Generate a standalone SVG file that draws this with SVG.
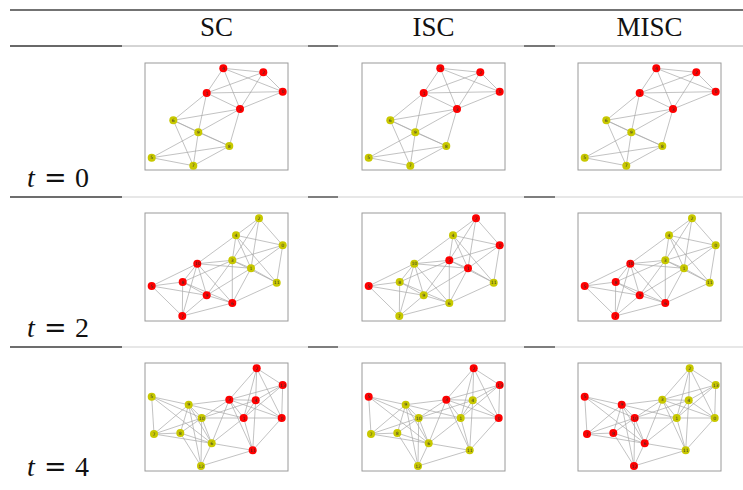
<svg xmlns="http://www.w3.org/2000/svg" xmlns:xlink="http://www.w3.org/1999/xlink" width="743" height="490" viewBox="0 0 743 490">
<style>
.rule{stroke:#444;stroke-width:1.3}
.hl{stroke:#aaa;stroke-width:1}
.hl2{stroke:#cfcfcf;stroke-width:1}
.head{font-family:"Liberation Serif",serif;font-size:27px;fill:#111;text-anchor:middle}
.tl{font-family:"Liberation Serif",serif;font-size:28px;fill:#111}
.eq{font-family:"DejaVu Serif",serif;font-size:27px}
.box{fill:#fff;stroke:#9a9a9a;stroke-width:1}
.edges,.es{stroke:#a8a8a8;stroke-width:0.7;fill:none}
.r circle{fill:#f00}
.y circle{fill:#c8c800}
.node text{font-family:"DejaVu Sans",sans-serif;font-size:4.5px;fill:#333;text-anchor:middle}
</style>
<g id="table">
<line class="rule" x1="10" y1="10" x2="743" y2="10"/>
<line class="hl" x1="10" y1="46" x2="743" y2="46"/>
<line class="rule" x1="10" y1="46" x2="122" y2="46"/>
<line class="rule" x1="308" y1="46" x2="338" y2="46"/>
<line class="rule" x1="524" y1="46" x2="555" y2="46"/>
<line class="hl2" x1="10" y1="197" x2="743" y2="197"/>
<line class="rule" x1="10" y1="197" x2="122" y2="197"/>
<line class="rule" x1="308" y1="197" x2="338" y2="197"/>
<line class="rule" x1="524" y1="197" x2="555" y2="197"/>
<line class="hl2" x1="10" y1="347" x2="743" y2="347"/>
<line class="rule" x1="10" y1="347" x2="122" y2="347"/>
<line class="rule" x1="308" y1="347" x2="338" y2="347"/>
<line class="rule" x1="524" y1="347" x2="555" y2="347"/>
<text class="head" x="216.5" y="36">SC</text>
<text class="head" x="433.5" y="36">ISC</text>
<text class="head" x="649.5" y="36">MISC</text>
<text class="tl" x="27" y="187"><tspan font-style="italic">t</tspan><tspan class="eq" x="44">=</tspan><tspan x="75">0</tspan></text>
<text class="tl" x="27" y="337"><tspan font-style="italic">t</tspan><tspan class="eq" x="44">=</tspan><tspan x="75">2</tspan></text>
<text class="tl" x="27" y="476"><tspan font-style="italic">t</tspan><tspan class="eq" x="44">=</tspan><tspan x="75">4</tspan></text>
</g>
<defs>
<g id="e0" class="es">
<line x1="78.3" y1="5.3" x2="118.3" y2="9.3"/><line x1="78.3" y1="5.3" x2="137.7" y2="28.7"/><line x1="78.3" y1="5.3" x2="61.7" y2="30"/><line x1="78.3" y1="5.3" x2="95" y2="46"/>
<line x1="118.3" y1="9.3" x2="61.7" y2="30"/><line x1="118.3" y1="9.3" x2="137.7" y2="28.7"/><line x1="118.3" y1="9.3" x2="95" y2="46"/>
<line x1="61.7" y1="30" x2="137.7" y2="28.7"/><line x1="61.7" y1="30" x2="95" y2="46"/><line x1="137.7" y1="28.7" x2="95" y2="46"/>
<line x1="61.7" y1="30" x2="28.3" y2="57.3"/><line x1="61.7" y1="30" x2="53.3" y2="69.3"/><line x1="28.3" y1="57.3" x2="95" y2="46"/>
<line x1="28.3" y1="57.3" x2="53.3" y2="69.3"/><line x1="28.3" y1="57.3" x2="84.3" y2="83"/><line x1="53.3" y1="69.3" x2="84.3" y2="83"/>
<line x1="53.3" y1="69.3" x2="95" y2="46"/><line x1="95" y1="46" x2="84.3" y2="83"/><line x1="28.3" y1="57.3" x2="48.3" y2="102.7"/>
<line x1="53.3" y1="69.3" x2="6.7" y2="94.7"/><line x1="53.3" y1="69.3" x2="48.3" y2="102.7"/><line x1="6.7" y1="94.7" x2="84.3" y2="83"/>
<line x1="6.7" y1="94.7" x2="48.3" y2="102.7"/><line x1="48.3" y1="102.7" x2="84.3" y2="83"/>
</g>
<g id="e1" class="es">
<line x1="114" y1="5.3" x2="91" y2="22.3"/><line x1="114" y1="5.3" x2="137.7" y2="32.3"/><line x1="114" y1="5.3" x2="87.3" y2="47.3"/><line x1="114" y1="5.3" x2="106" y2="55.3"/>
<line x1="91" y1="22.3" x2="137.7" y2="32.3"/><line x1="91" y1="22.3" x2="87.3" y2="47.3"/><line x1="91" y1="22.3" x2="106" y2="55.3"/><line x1="91" y1="22.3" x2="131.7" y2="69.7"/><line x1="91" y1="22.3" x2="52.3" y2="50.7"/>
<line x1="137.7" y1="32.3" x2="87.3" y2="47.3"/><line x1="137.7" y1="32.3" x2="106" y2="55.3"/><line x1="137.7" y1="32.3" x2="131.7" y2="69.7"/>
<line x1="87.3" y1="47.3" x2="106" y2="55.3"/><line x1="87.3" y1="47.3" x2="131.7" y2="69.7"/><line x1="106" y1="55.3" x2="131.7" y2="69.7"/>
<line x1="87.3" y1="47.3" x2="52.3" y2="50.7"/><line x1="106" y1="55.3" x2="52.3" y2="50.7"/><line x1="87.3" y1="47.3" x2="87.3" y2="90"/>
<line x1="87.3" y1="47.3" x2="61.7" y2="82.3"/><line x1="106" y1="55.3" x2="61.7" y2="82.3"/><line x1="106" y1="55.3" x2="87.3" y2="90"/><line x1="87.3" y1="90" x2="131.7" y2="69.7"/>
<line x1="52.3" y1="50.7" x2="37.7" y2="69"/><line x1="52.3" y1="50.7" x2="6.7" y2="73"/><line x1="52.3" y1="50.7" x2="61.7" y2="82.3"/><line x1="52.3" y1="50.7" x2="87.3" y2="90"/><line x1="52.3" y1="50.7" x2="37.3" y2="103"/>
<line x1="37.7" y1="69" x2="6.7" y2="73"/><line x1="37.7" y1="69" x2="61.7" y2="82.3"/><line x1="37.7" y1="69" x2="87.3" y2="90"/><line x1="37.7" y1="69" x2="37.3" y2="103"/><line x1="37.7" y1="69" x2="87.3" y2="47.3"/>
<line x1="6.7" y1="73" x2="61.7" y2="82.3"/><line x1="6.7" y1="73" x2="37.3" y2="103"/><line x1="61.7" y1="82.3" x2="87.3" y2="90"/><line x1="61.7" y1="82.3" x2="37.3" y2="103"/><line x1="37.3" y1="103" x2="87.3" y2="90"/>
</g>
<g id="e2" class="es">
<line x1="111.7" y1="5.3" x2="137.7" y2="22"/><line x1="111.7" y1="5.3" x2="84.3" y2="36.7"/><line x1="111.7" y1="5.3" x2="110.7" y2="37.3"/><line x1="111.7" y1="5.3" x2="98.7" y2="55"/><line x1="111.7" y1="5.3" x2="136.7" y2="55"/>
<line x1="137.7" y1="22" x2="84.3" y2="36.7"/><line x1="137.7" y1="22" x2="110.7" y2="37.3"/><line x1="137.7" y1="22" x2="136.7" y2="55"/><line x1="137.7" y1="22" x2="98.7" y2="55"/>
<line x1="84.3" y1="36.7" x2="110.7" y2="37.3"/><line x1="84.3" y1="36.7" x2="98.7" y2="55"/><line x1="84.3" y1="36.7" x2="56.7" y2="55"/><line x1="84.3" y1="36.7" x2="66.7" y2="80.3"/><line x1="84.3" y1="36.7" x2="107.7" y2="87.3"/><line x1="84.3" y1="36.7" x2="136.7" y2="55"/>
<line x1="110.7" y1="37.3" x2="98.7" y2="55"/><line x1="110.7" y1="37.3" x2="136.7" y2="55"/><line x1="110.7" y1="37.3" x2="107.7" y2="87.3"/>
<line x1="98.7" y1="55" x2="136.7" y2="55"/><line x1="98.7" y1="55" x2="56.7" y2="55"/><line x1="98.7" y1="55" x2="66.7" y2="80.3"/><line x1="98.7" y1="55" x2="107.7" y2="87.3"/><line x1="136.7" y1="55" x2="107.7" y2="87.3"/>
<line x1="6.7" y1="33.7" x2="43.7" y2="41.7"/><line x1="6.7" y1="33.7" x2="56.7" y2="55"/><line x1="6.7" y1="33.7" x2="9" y2="71"/><line x1="6.7" y1="33.7" x2="66.7" y2="80.3"/>
<line x1="43.7" y1="41.7" x2="84.3" y2="36.7"/><line x1="43.7" y1="41.7" x2="56.7" y2="55"/><line x1="43.7" y1="41.7" x2="9" y2="71"/><line x1="43.7" y1="41.7" x2="35.3" y2="70"/><line x1="43.7" y1="41.7" x2="66.7" y2="80.3"/><line x1="43.7" y1="41.7" x2="56" y2="103"/><line x1="43.7" y1="41.7" x2="98.7" y2="55"/>
<line x1="56.7" y1="55" x2="9" y2="71"/><line x1="56.7" y1="55" x2="35.3" y2="70"/><line x1="56.7" y1="55" x2="66.7" y2="80.3"/><line x1="56.7" y1="55" x2="56" y2="103"/><line x1="56.7" y1="55" x2="110.7" y2="37.3"/>
<line x1="9" y1="71" x2="35.3" y2="70"/><line x1="9" y1="71" x2="66.7" y2="80.3"/><line x1="35.3" y1="70" x2="66.7" y2="80.3"/><line x1="35.3" y1="70" x2="56" y2="103"/>
<line x1="66.7" y1="80.3" x2="56" y2="103"/><line x1="66.7" y1="80.3" x2="107.7" y2="87.3"/><line x1="56" y1="103" x2="107.7" y2="87.3"/>
</g>
</defs>

<!-- Row t=0 -->
<g id="sc-t0" transform="translate(145,63)">
<rect class="box" width="143" height="107"/>
<g class="edges"><use href="#e0"/></g>
<g id="sc-t0-n0" class="node r" transform="translate(137.7,28.7)"><circle r="4"/><text y="1.6">0</text></g>
<g id="sc-t0-n1" class="node r" transform="translate(61.7,30)"><circle r="4"/><text y="1.6">1</text></g>
<g id="sc-t0-n2" class="node r" transform="translate(118.3,9.3)"><circle r="4"/><text y="1.6">2</text></g>
<g id="sc-t0-n3" class="node r" transform="translate(95,46)"><circle r="4"/><text y="1.6">3</text></g>
<g id="sc-t0-n4" class="node r" transform="translate(78.3,5.3)"><circle r="4"/><text y="1.6">4</text></g>
<g id="sc-t0-n5" class="node y" transform="translate(6.7,94.7)"><circle r="4"/><text y="1.6">5</text></g>
<g id="sc-t0-n6" class="node y" transform="translate(28.3,57.3)"><circle r="4"/><text y="1.6">6</text></g>
<g id="sc-t0-n7" class="node y" transform="translate(48.3,102.7)"><circle r="4"/><text y="1.6">7</text></g>
<g id="sc-t0-n8" class="node y" transform="translate(84.3,83)"><circle r="4"/><text y="1.6">8</text></g>
<g id="sc-t0-n9" class="node y" transform="translate(53.3,69.3)"><circle r="4"/><text y="1.6">9</text></g>
</g>
<g id="isc-t0" transform="translate(362,63)">
<rect class="box" width="143" height="107"/>
<g class="edges"><use href="#e0"/></g>
<g id="isc-t0-n0" class="node r" transform="translate(137.7,28.7)"><circle r="4"/><text y="1.6">0</text></g>
<g id="isc-t0-n1" class="node r" transform="translate(61.7,30)"><circle r="4"/><text y="1.6">1</text></g>
<g id="isc-t0-n2" class="node r" transform="translate(118.3,9.3)"><circle r="4"/><text y="1.6">2</text></g>
<g id="isc-t0-n3" class="node r" transform="translate(95,46)"><circle r="4"/><text y="1.6">3</text></g>
<g id="isc-t0-n4" class="node r" transform="translate(78.3,5.3)"><circle r="4"/><text y="1.6">4</text></g>
<g id="isc-t0-n5" class="node y" transform="translate(6.7,94.7)"><circle r="4"/><text y="1.6">5</text></g>
<g id="isc-t0-n6" class="node y" transform="translate(28.3,57.3)"><circle r="4"/><text y="1.6">6</text></g>
<g id="isc-t0-n7" class="node y" transform="translate(48.3,102.7)"><circle r="4"/><text y="1.6">7</text></g>
<g id="isc-t0-n8" class="node y" transform="translate(84.3,83)"><circle r="4"/><text y="1.6">8</text></g>
<g id="isc-t0-n9" class="node y" transform="translate(53.3,69.3)"><circle r="4"/><text y="1.6">9</text></g>
</g>
<g id="misc-t0" transform="translate(578,63)">
<rect class="box" width="143" height="107"/>
<g class="edges"><use href="#e0"/></g>
<g id="misc-t0-n0" class="node r" transform="translate(137.7,28.7)"><circle r="4"/><text y="1.6">0</text></g>
<g id="misc-t0-n1" class="node r" transform="translate(61.7,30)"><circle r="4"/><text y="1.6">1</text></g>
<g id="misc-t0-n2" class="node r" transform="translate(118.3,9.3)"><circle r="4"/><text y="1.6">2</text></g>
<g id="misc-t0-n3" class="node r" transform="translate(95,46)"><circle r="4"/><text y="1.6">3</text></g>
<g id="misc-t0-n4" class="node r" transform="translate(78.3,5.3)"><circle r="4"/><text y="1.6">4</text></g>
<g id="misc-t0-n5" class="node y" transform="translate(6.7,94.7)"><circle r="4"/><text y="1.6">5</text></g>
<g id="misc-t0-n6" class="node y" transform="translate(28.3,57.3)"><circle r="4"/><text y="1.6">6</text></g>
<g id="misc-t0-n7" class="node y" transform="translate(48.3,102.7)"><circle r="4"/><text y="1.6">7</text></g>
<g id="misc-t0-n8" class="node y" transform="translate(84.3,83)"><circle r="4"/><text y="1.6">8</text></g>
<g id="misc-t0-n9" class="node y" transform="translate(53.3,69.3)"><circle r="4"/><text y="1.6">9</text></g>
</g>

<!-- Row t=2 -->
<g id="sc-t2" transform="translate(145,213)">
<rect class="box" width="143" height="108"/>
<g class="edges"><use href="#e1"/></g>
<g id="sc-t2-n0" class="node y" transform="translate(137.7,32.3)"><circle r="4"/><text y="1.6">0</text></g>
<g id="sc-t2-n1" class="node y" transform="translate(106,55.3)"><circle r="4"/><text y="1.6">1</text></g>
<g id="sc-t2-n2" class="node y" transform="translate(114,5.3)"><circle r="4"/><text y="1.6">2</text></g>
<g id="sc-t2-n3" class="node y" transform="translate(87.3,47.3)"><circle r="4"/><text y="1.6">3</text></g>
<g id="sc-t2-n4" class="node y" transform="translate(91,22.3)"><circle r="4"/><text y="1.6">4</text></g>
<g id="sc-t2-n5" class="node r" transform="translate(6.7,73)"><circle r="4"/><text y="1.6">5</text></g>
<g id="sc-t2-n6" class="node r" transform="translate(87.3,90)"><circle r="4"/><text y="1.6">6</text></g>
<g id="sc-t2-n7" class="node r" transform="translate(37.3,103)"><circle r="4"/><text y="1.6">7</text></g>
<g id="sc-t2-n8" class="node r" transform="translate(37.7,69)"><circle r="4"/><text y="1.6">8</text></g>
<g id="sc-t2-n9" class="node r" transform="translate(61.7,82.3)"><circle r="4"/><text y="1.6">9</text></g>
<g id="sc-t2-n10" class="node r" transform="translate(52.3,50.7)"><circle r="4"/><text y="1.6">10</text></g>
<g id="sc-t2-n11" class="node y" transform="translate(131.7,69.7)"><circle r="4"/><text y="1.6">11</text></g>
</g>
<g id="isc-t2" transform="translate(362,213)">
<rect class="box" width="143" height="108"/>
<g class="edges"><use href="#e1"/></g>
<g id="isc-t2-n0" class="node r" transform="translate(137.7,32.3)"><circle r="4"/><text y="1.6">0</text></g>
<g id="isc-t2-n1" class="node r" transform="translate(106,55.3)"><circle r="4"/><text y="1.6">1</text></g>
<g id="isc-t2-n2" class="node r" transform="translate(114,5.3)"><circle r="4"/><text y="1.6">2</text></g>
<g id="isc-t2-n3" class="node r" transform="translate(87.3,47.3)"><circle r="4"/><text y="1.6">3</text></g>
<g id="isc-t2-n4" class="node y" transform="translate(91,22.3)"><circle r="4"/><text y="1.6">4</text></g>
<g id="isc-t2-n5" class="node r" transform="translate(6.7,73)"><circle r="4"/><text y="1.6">5</text></g>
<g id="isc-t2-n6" class="node y" transform="translate(87.3,90)"><circle r="4"/><text y="1.6">6</text></g>
<g id="isc-t2-n7" class="node y" transform="translate(37.3,103)"><circle r="4"/><text y="1.6">7</text></g>
<g id="isc-t2-n8" class="node y" transform="translate(37.7,69)"><circle r="4"/><text y="1.6">8</text></g>
<g id="isc-t2-n9" class="node y" transform="translate(61.7,82.3)"><circle r="4"/><text y="1.6">9</text></g>
<g id="isc-t2-n10" class="node y" transform="translate(52.3,50.7)"><circle r="4"/><text y="1.6">10</text></g>
<g id="isc-t2-n11" class="node y" transform="translate(131.7,69.7)"><circle r="4"/><text y="1.6">11</text></g>
</g>
<g id="misc-t2" transform="translate(578,213)">
<rect class="box" width="143" height="108"/>
<g class="edges"><use href="#e1"/></g>
<g id="misc-t2-n0" class="node y" transform="translate(137.7,32.3)"><circle r="4"/><text y="1.6">0</text></g>
<g id="misc-t2-n1" class="node y" transform="translate(106,55.3)"><circle r="4"/><text y="1.6">1</text></g>
<g id="misc-t2-n2" class="node y" transform="translate(114,5.3)"><circle r="4"/><text y="1.6">2</text></g>
<g id="misc-t2-n3" class="node y" transform="translate(87.3,47.3)"><circle r="4"/><text y="1.6">3</text></g>
<g id="misc-t2-n4" class="node y" transform="translate(91,22.3)"><circle r="4"/><text y="1.6">4</text></g>
<g id="misc-t2-n5" class="node r" transform="translate(6.7,73)"><circle r="4"/><text y="1.6">5</text></g>
<g id="misc-t2-n6" class="node r" transform="translate(87.3,90)"><circle r="4"/><text y="1.6">6</text></g>
<g id="misc-t2-n7" class="node r" transform="translate(37.3,103)"><circle r="4"/><text y="1.6">7</text></g>
<g id="misc-t2-n8" class="node r" transform="translate(37.7,69)"><circle r="4"/><text y="1.6">8</text></g>
<g id="misc-t2-n9" class="node r" transform="translate(61.7,82.3)"><circle r="4"/><text y="1.6">9</text></g>
<g id="misc-t2-n10" class="node r" transform="translate(52.3,50.7)"><circle r="4"/><text y="1.6">10</text></g>
<g id="misc-t2-n11" class="node y" transform="translate(131.7,69.7)"><circle r="4"/><text y="1.6">11</text></g>
</g>

<!-- Row t=4 -->
<g id="sc-t4" transform="translate(145,363)">
<rect class="box" width="143" height="108"/>
<g class="edges"><use href="#e2"/></g>
<g id="sc-t4-n0" class="node r" transform="translate(136.7,55)"><circle r="4"/><text y="1.6">0</text></g>
<g id="sc-t4-n1" class="node r" transform="translate(98.7,55)"><circle r="4"/><text y="1.6">1</text></g>
<g id="sc-t4-n2" class="node r" transform="translate(111.7,5.3)"><circle r="4"/><text y="1.6">2</text></g>
<g id="sc-t4-n3" class="node r" transform="translate(84.3,36.7)"><circle r="4"/><text y="1.6">3</text></g>
<g id="sc-t4-n4" class="node r" transform="translate(110.7,37.3)"><circle r="4"/><text y="1.6">4</text></g>
<g id="sc-t4-n5" class="node y" transform="translate(6.7,33.7)"><circle r="4"/><text y="1.6">5</text></g>
<g id="sc-t4-n6" class="node y" transform="translate(66.7,80.3)"><circle r="4"/><text y="1.6">6</text></g>
<g id="sc-t4-n7" class="node y" transform="translate(9,71)"><circle r="4"/><text y="1.6">7</text></g>
<g id="sc-t4-n8" class="node y" transform="translate(35.3,70)"><circle r="4"/><text y="1.6">8</text></g>
<g id="sc-t4-n9" class="node y" transform="translate(43.7,41.7)"><circle r="4"/><text y="1.6">9</text></g>
<g id="sc-t4-n10" class="node y" transform="translate(56.7,55)"><circle r="4"/><text y="1.6">10</text></g>
<g id="sc-t4-n11" class="node r" transform="translate(107.7,87.3)"><circle r="4"/><text y="1.6">11</text></g>
<g id="sc-t4-n12" class="node y" transform="translate(56,103)"><circle r="4"/><text y="1.6">12</text></g>
<g id="sc-t4-n13" class="node r" transform="translate(137.7,22)"><circle r="4"/><text y="1.6">13</text></g>
</g>
<g id="isc-t4" transform="translate(362,363)">
<rect class="box" width="143" height="108"/>
<g class="edges"><use href="#e2"/></g>
<g id="isc-t4-n0" class="node r" transform="translate(136.7,55)"><circle r="4"/><text y="1.6">0</text></g>
<g id="isc-t4-n1" class="node y" transform="translate(98.7,55)"><circle r="4"/><text y="1.6">1</text></g>
<g id="isc-t4-n2" class="node r" transform="translate(111.7,5.3)"><circle r="4"/><text y="1.6">2</text></g>
<g id="isc-t4-n3" class="node r" transform="translate(84.3,36.7)"><circle r="4"/><text y="1.6">3</text></g>
<g id="isc-t4-n4" class="node y" transform="translate(110.7,37.3)"><circle r="4"/><text y="1.6">4</text></g>
<g id="isc-t4-n5" class="node r" transform="translate(6.7,33.7)"><circle r="4"/><text y="1.6">5</text></g>
<g id="isc-t4-n6" class="node y" transform="translate(66.7,80.3)"><circle r="4"/><text y="1.6">6</text></g>
<g id="isc-t4-n7" class="node y" transform="translate(9,71)"><circle r="4"/><text y="1.6">7</text></g>
<g id="isc-t4-n8" class="node y" transform="translate(35.3,70)"><circle r="4"/><text y="1.6">8</text></g>
<g id="isc-t4-n9" class="node y" transform="translate(43.7,41.7)"><circle r="4"/><text y="1.6">9</text></g>
<g id="isc-t4-n10" class="node y" transform="translate(56.7,55)"><circle r="4"/><text y="1.6">10</text></g>
<g id="isc-t4-n11" class="node y" transform="translate(107.7,87.3)"><circle r="4"/><text y="1.6">11</text></g>
<g id="isc-t4-n12" class="node y" transform="translate(56,103)"><circle r="4"/><text y="1.6">12</text></g>
<g id="isc-t4-n13" class="node r" transform="translate(137.7,22)"><circle r="4"/><text y="1.6">13</text></g>
</g>
<g id="misc-t4" transform="translate(578,363)">
<rect class="box" width="143" height="108"/>
<g class="edges"><use href="#e2"/></g>
<g id="misc-t4-n0" class="node y" transform="translate(136.7,55)"><circle r="4"/><text y="1.6">0</text></g>
<g id="misc-t4-n1" class="node y" transform="translate(98.7,55)"><circle r="4"/><text y="1.6">1</text></g>
<g id="misc-t4-n2" class="node y" transform="translate(111.7,5.3)"><circle r="4"/><text y="1.6">2</text></g>
<g id="misc-t4-n3" class="node y" transform="translate(84.3,36.7)"><circle r="4"/><text y="1.6">3</text></g>
<g id="misc-t4-n4" class="node y" transform="translate(110.7,37.3)"><circle r="4"/><text y="1.6">4</text></g>
<g id="misc-t4-n5" class="node r" transform="translate(6.7,33.7)"><circle r="4"/><text y="1.6">5</text></g>
<g id="misc-t4-n6" class="node r" transform="translate(66.7,80.3)"><circle r="4"/><text y="1.6">6</text></g>
<g id="misc-t4-n7" class="node r" transform="translate(9,71)"><circle r="4"/><text y="1.6">7</text></g>
<g id="misc-t4-n8" class="node r" transform="translate(35.3,70)"><circle r="4"/><text y="1.6">8</text></g>
<g id="misc-t4-n9" class="node r" transform="translate(43.7,41.7)"><circle r="4"/><text y="1.6">9</text></g>
<g id="misc-t4-n10" class="node r" transform="translate(56.7,55)"><circle r="4"/><text y="1.6">10</text></g>
<g id="misc-t4-n11" class="node y" transform="translate(107.7,87.3)"><circle r="4"/><text y="1.6">11</text></g>
<g id="misc-t4-n12" class="node r" transform="translate(56,103)"><circle r="4"/><text y="1.6">12</text></g>
<g id="misc-t4-n13" class="node y" transform="translate(137.7,22)"><circle r="4"/><text y="1.6">13</text></g>
</g>
</svg>
